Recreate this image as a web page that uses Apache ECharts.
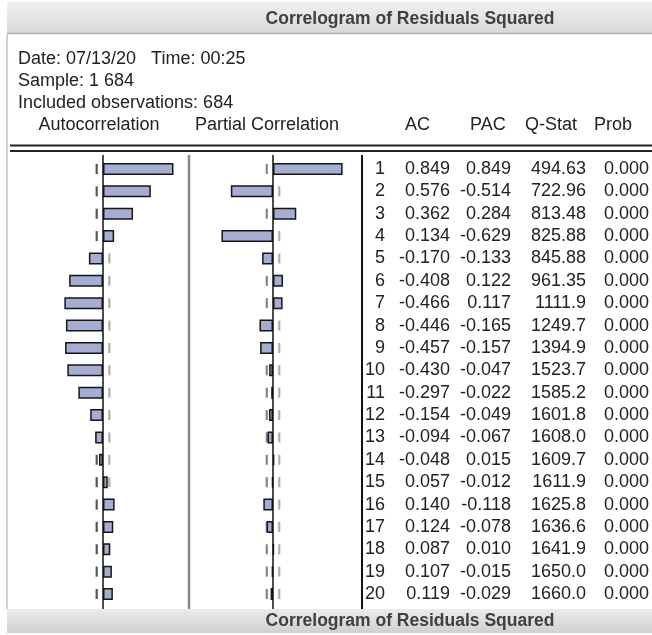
<!DOCTYPE html>
<html>
<head>
<meta charset="utf-8">
<script src="https://cdn.jsdelivr.net/npm/echarts@6/dist/echarts.min.js"></script>
<style>
html,body{margin:0;padding:0;background:#fff;}
#c{width:652px;height:635px;}
</style>
</head>
<body>
<div id="c"></div>
<script>
// ---- data ----
var lags = ['1','2','3','4','5','6','7','8','9','10','11','12','13','14','15','16','17','18','19','20'];
var acValues = [0.849,0.576,0.362,0.134,-0.170,-0.408,-0.466,-0.446,-0.457,-0.430,-0.297,-0.154,-0.094,-0.048,0.057,0.140,0.124,0.087,0.107,0.119];
var pacValues = [0.849,-0.514,0.284,-0.629,-0.133,0.122,0.117,-0.165,-0.157,-0.047,-0.022,-0.049,-0.067,0.015,-0.012,-0.118,-0.078,0.010,-0.015,-0.029];
var qStatLabels = ['494.63','722.96','813.48','825.88','845.88','961.35','1111.9','1249.7','1394.9','1523.7','1585.2','1601.8','1608.0','1609.7','1611.9','1625.8','1636.6','1641.9','1650.0','1660.0'];
var probLabels = ['0.000','0.000','0.000','0.000','0.000','0.000','0.000','0.000','0.000','0.000','0.000','0.000','0.000','0.000','0.000','0.000','0.000','0.000','0.000','0.000'];
var confBound = 0.076;
var titleText = 'Correlogram of Residuals Squared';
var infoLines = ['Date: 07/13/20   Time: 00:25', 'Sample: 1 684', 'Included observations: 684'];
var columnHeaders = ['Autocorrelation', 'Partial Correlation', 'AC', 'PAC', 'Q-Stat', 'Prob'];

// ---- chart ----
var FONT = '"Liberation Sans", Arial, Helvetica, sans-serif';
var TXT = '#222';
var chart = echarts.init(document.getElementById('c'), null, {renderer: 'canvas'});

var gridTop = 157.8, gridH = 447.4;
var barStyle = {color: '#a5aed2', borderColor: '#161616', borderWidth: 1.5};

function boundSeries(xIdx, sign, color) {
  return {
    type: 'scatter', xAxisIndex: xIdx, yAxisIndex: xIdx, z: 1, silent: true,
    symbol: 'rect', symbolSize: [2.2, 10],
    itemStyle: {color: color},
    data: lags.map(function (l) { return [sign * confBound, l]; })
  };
}

function tableAxis(offset, fmt) {
  return {
    type: 'category', gridIndex: 1, data: lags, inverse: true, position: 'right', offset: offset,
    axisLine: {show: false}, axisTick: {show: false}, splitLine: {show: false},
    axisLabel: {show: true, interval: 0, margin: 0, align: 'right', fontSize: 18, fontFamily: FONT, color: TXT, formatter: fmt}
  };
}

var hiddenCat = function (g) {
  return {type: 'category', gridIndex: g, data: lags, inverse: true, show: false};
};
var hiddenVal = function (g) {
  return {type: 'value', gridIndex: g, min: -1, max: 1, show: false};
};

var option = {
  backgroundColor: '#ffffff',
  animation: false,
  grid: [
    {left: 20, width: 166, top: gridTop, height: gridH},
    {left: 191, width: 166, top: gridTop, height: gridH}
  ],
  xAxis: [hiddenVal(0), hiddenVal(1)],
  yAxis: [
    hiddenCat(0), hiddenCat(1),
    tableAxis(30, function (v, i) { return lags[i]; }),
    tableAxis(95, function (v, i) { return acValues[i].toFixed(3); }),
    tableAxis(156, function (v, i) { return pacValues[i].toFixed(3); }),
    tableAxis(231, function (v, i) { return qStatLabels[i]; }),
    tableAxis(294, function (v, i) { return probLabels[i]; })
  ],
  series: [
    boundSeries(0, -1, '#2a2a2a'),
    boundSeries(0, 1, '#9a9a9a'),
    boundSeries(1, -1, '#666666'),
    boundSeries(1, 1, '#9a9a9a'),
    {type: 'bar', xAxisIndex: 0, yAxisIndex: 0, z: 3, barWidth: 12, itemStyle: barStyle, data: acValues, silent: true},
    {type: 'bar', xAxisIndex: 1, yAxisIndex: 1, z: 3, barWidth: 12, itemStyle: barStyle, data: pacValues, silent: true}
  ]
};
chart.setOption(option);

// decorations; zero lines placed through the library's own scales
var x0a = chart.convertToPixel({xAxisIndex: 0}, 0);
var x0b = chart.convertToPixel({xAxisIndex: 1}, 0);
var lineTop = 155, lineBot = 609;

function txt(text, x, y, opts) {
  opts = opts || {};
  return {
    type: 'text', z: 10, silent: true,
    style: {
      text: text, x: x, y: y,
      fontSize: opts.size || 18, fontFamily: FONT, fontWeight: opts.weight || 'normal',
      fill: opts.color || TXT, textAlign: opts.align || 'left', textVerticalAlign: 'middle'
    }
  };
}
function vline(x, y1, y2, color, w) {
  return {type: 'line', z: 5, silent: true, shape: {x1: x, y1: y1, x2: x, y2: y2}, style: {stroke: color, lineWidth: w}};
}
function hline(y, x1, x2, color, w) {
  return {type: 'line', z: 5, silent: true, shape: {x1: x1, y1: y, x2: x2, y2: y}, style: {stroke: color, lineWidth: w}};
}

var g = [
  {type: 'rect', z: 4, silent: true, shape: {x: 7, y: 2, width: 645, height: 32},
   style: {fill: new echarts.graphic.LinearGradient(0, 0, 0, 1, [{offset: 0, color: '#f0f0f0'}, {offset: 1, color: '#d8d8d8'}])}},
  hline(33.5, 7, 652, '#a9afc4', 1.5),
  txt(titleText, 410, 19, {size: 17.5, weight: 'bold', color: '#404040', align: 'center'}),
  vline(7, 34, 609, '#c4c4c4', 1.5),
  txt(infoLines[0], 18, 59),
  txt(infoLines[1], 18, 81),
  txt(infoLines[2], 18, 103),
  txt(columnHeaders[0], 99, 125, {align: 'center'}),
  txt(columnHeaders[1], 267, 125, {align: 'center'}),
  txt(columnHeaders[2], 405, 125),
  txt(columnHeaders[3], 470, 125),
  txt(columnHeaders[4], 525, 125),
  txt(columnHeaders[5], 594, 125),
  hline(145.5, 10, 652, '#222', 2),
  hline(151, 10, 652, '#222', 2),
  vline(x0a, lineTop, lineBot, '#111', 1.5),
  vline(x0b, lineTop, lineBot, '#111', 1.5),
  vline(189, lineTop, lineBot, '#8a8a8a', 2.5),
  vline(362, lineTop, lineBot, '#111', 2),
  {type: 'rect', z: 4, silent: true, shape: {x: 7, y: 609, width: 645, height: 24},
   style: {fill: new echarts.graphic.LinearGradient(0, 0, 0, 1, [{offset: 0, color: '#ebebeb'}, {offset: 1, color: '#d0d0d0'}])}},
  txt(titleText, 410, 621, {size: 17.5, weight: 'bold', color: '#404040', align: 'center'})
];
chart.setOption({graphic: g});
</script>
</body>
</html>
